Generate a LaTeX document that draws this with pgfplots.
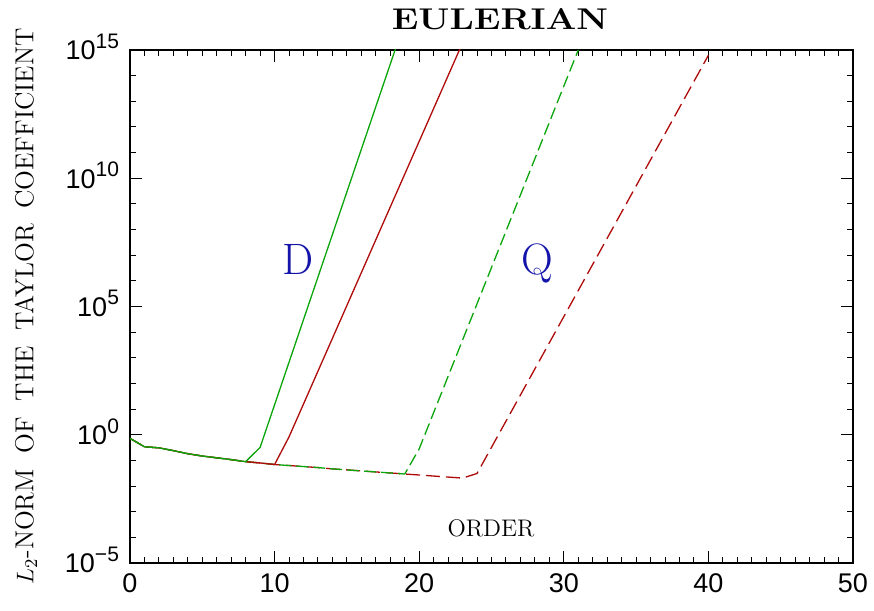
\documentclass[border=0pt]{standalone}
\usepackage{pgfplots}
\pgfplotsset{compat=1.18}
\usepackage{fontspec}
\newfontfamily\tickfont{Liberation Sans}
\newcommand{\sexp}[1]{\raisebox{0.42em}{\fontsize{10.5}{11}\selectfont #1}}
\definecolor{cgreen}{RGB}{10,165,10}
\definecolor{cred}{RGB}{175,10,10}
\definecolor{cblue}{RGB}{20,20,170}
\begin{document}
\begin{tikzpicture}
\begin{axis}[
  at={(0,0)}, anchor=south west,
  scale only axis, width=361.5pt, height=256.5pt,
  xmin=0, xmax=50, ymode=log, ymin=1e-5, ymax=1e15,
  xtick={0,10,20,30,40,50}, xticklabels={0,10,20,30,40,50},
  minor xtick={1,...,49},
  ytick={1e-5,1e0,1e5,1e10,1e15},
  yticklabels={{10\sexp{−5}},{10\sexp{0}},{10\sexp{5}},{10\sexp{10}},{10\sexp{15}}},
  minor ytick={1e-4,1e-3,1e-2,1e-1,1e1,1e2,1e3,1e4,1e6,1e7,1e8,1e9,1e11,1e12,1e13,1e14},
  major tick length=6pt, minor tick length=3pt,
  tick style={black, line width=0.5pt},
  axis line style={line width=0.6pt},
  ticklabel style={font=\tickfont\fontsize{13.5}{15}\selectfont},
  yticklabel style={anchor=base east, yshift=-4.9pt, xshift=-2pt},
  xticklabel style={anchor=north, yshift=-2pt},
]
% Q, red (dashed)
\addplot[cred, line width=0.65pt, dash pattern=on 7pt off 3pt] coordinates {
(0,0.7244)(1,0.3388)(2,0.3090)(3,0.2399)(4,0.1820)(5,0.1479)(6,0.1259)(7,0.1072)(8,0.08913)(9,0.07943)(10,0.06918)(11,0.06310)(12,0.05754)(13,0.05248)(14,0.04677)(15,0.04266)(16,0.03890)(17,0.03548)(18,0.03236)(19,0.02951)(20,0.02692)(21,0.02455)(22,0.02239)(23,0.02042)(24,0.03090)(25,0.3236)(26,3.373)(27,35.24)(28,368.1)(29,3846)(30,4.018e4)(31,4.198e5)(32,4.385e6)(33,4.581e7)(34,4.786e8)(35,5.000e9)(36,5.224e10)(37,5.458e11)(38,5.702e12)(39,5.957e13)(40,6.223e14)};
% Q, green (dashed)
\addplot[cgreen, line width=0.65pt, dash pattern=on 6pt off 2.5pt] coordinates {
(0,0.7244)(1,0.3388)(2,0.3090)(3,0.2399)(4,0.1820)(5,0.1479)(6,0.1259)(7,0.1072)(8,0.08913)(9,0.07943)(10,0.06918)(11,0.06310)(12,0.05754)(13,0.05248)(14,0.04677)(15,0.04266)(16,0.03890)(17,0.03548)(18,0.03236)(19,0.02951)(20,0.2818)(21,7.31)(22,189.7)(23,4920)(24,1.276e5)(25,3.311e6)(26,8.590e7)(27,2.228e9)(28,5.781e10)(29,1.500e12)(30,3.890e13)(31,1e15)};
% D, red (solid)
\addplot[cred, line width=0.65pt] coordinates {
(0,0.7244)(1,0.3388)(2,0.3090)(3,0.2399)(4,0.1820)(5,0.1479)(6,0.1259)(7,0.1072)(8,0.08913)(9,0.07943)(10,0.06918)(11,0.8318)(12,15.85)(13,302.0)(14,5754)(15,1.096e5)(16,2.089e6)(17,3.981e7)(18,7.586e8)(19,1.445e10)(20,2.754e11)(21,5.248e12)(22,1.000e14)(23,1.905e15)};
% D, green (solid)
\addplot[cgreen, line width=0.65pt] coordinates {
(0,0.7244)(1,0.3388)(2,0.3090)(3,0.2399)(4,0.1820)(5,0.1479)(6,0.1259)(7,0.1072)(8,0.08913)(9,0.3236)(10,14.79)(11,676.1)(12,3.090e4)(13,1.413e6)(14,6.457e7)(15,2.951e9)(16,1.349e11)(17,6.166e12)(18,2.818e14)(19,1.288e16)};
\end{axis}
\node[font=\fontsize{15}{17}\selectfont\bfseries, anchor=base, xscale=1.2] at (185pt,266.5pt) {EULERIAN};
\node[font=\fontsize{12}{14}\selectfont, anchor=base] at (180.5pt,13pt) {ORDER};
\node[font=\fontsize{22}{24}\selectfont, anchor=base, text=cblue] at (84.25pt,144pt) {D};
\node[font=\fontsize{22}{24}\selectfont, anchor=base, text=cblue] at (203.5pt,144pt) {Q};
\node[rotate=90, font=\fontsize{13}{15}\selectfont] at (-52pt,128.25pt) {$L_2$-NORM\hspace{0.6em}OF\hspace{0.6em}THE\hspace{0.6em}TAYLOR\hspace{0.6em}COEFFICIENT};
\pgfresetboundingbox
\path (-65pt,-24pt) rectangle (372pt,281.5pt);
\end{tikzpicture}
\end{document}
